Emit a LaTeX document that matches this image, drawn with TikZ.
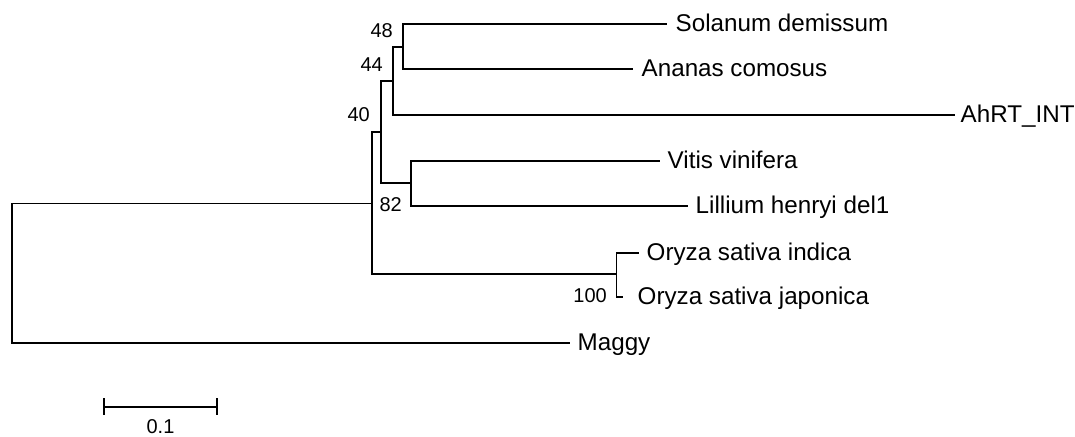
\documentclass[tikz,border=0pt]{standalone}
\usepackage{fontspec}
\setmainfont{Liberation Sans}
\begin{document}
\begin{tikzpicture}[x=1pt,y=-1pt,
  branch/.style={line width=1.8pt},
  taxon/.style={anchor=base west, inner sep=0pt, font=\fontsize{24.2}{28}\selectfont},
  support/.style={anchor=base east, inner sep=0pt, font=\fontsize{20}{24}\selectfont}]
\useasboundingbox (0,0) rectangle (1075,436);
% internal nodes
\coordinate (r) at (12,273);
\coordinate (a) at (372,203.5);
\coordinate (b) at (381,132);
\coordinate (c) at (393,80.7);
\coordinate (d) at (403,46.7);
\coordinate (e) at (411,183.3);
\coordinate (f) at (616.5,274);
% leaves
\coordinate (solanum) at (667,24);
\coordinate (ananas) at (633,69.3);
\coordinate (ahrt) at (955,115);
\coordinate (vitis) at (660,160.7);
\coordinate (lillium) at (688,206);
\coordinate (indica) at (639,253);
\coordinate (japonica) at (623,297);
\coordinate (maggy) at (570,343);
% branches
\draw[branch] (r) |- (a);
\draw[branch] (r) |- (maggy);
\draw[branch] (a) |- (b);
\draw[branch] (a) |- (f);
\draw[branch] (b) |- (c);
\draw[branch] (b) |- (e);
\draw[branch] (c) |- (d);
\draw[branch] (c) |- (ahrt);
\draw[branch] (d) |- (solanum);
\draw[branch] (d) |- (ananas);
\draw[branch] (e) |- (vitis);
\draw[branch] (e) |- (lillium);
\draw[branch] (f) |- (indica);
\draw[branch] (f) |- (japonica);
% taxon labels
\node[taxon] (tsol) at (675.5,31.5) {Solanum demissum};
\node[taxon] (tana) at (641.5,77) {Ananas comosus};
\node[taxon] (tahr) at (960.5,122.5) {AhRT\_INT};
\node[taxon] (tvit) at (667.5,168) {Vitis vinifera};
\node[taxon] (tlil) at (695.5,213.5) {Lillium henryi del1};
\node[taxon] (tind) at (646.5,260.5) {Oryza sativa indica};
\node[taxon] (tjap) at (637.5,304.5) {Oryza sativa japonica};
\node[taxon] (tmag) at (577.5,350.5) {Maggy};
% support values
\node[support] (s48) at (393,37.3) {48};
\node[support] (s44) at (383,71) {44};
\node[support] (s40) at (370,121) {40};
\node[support] (s82) at (402,211.7) {82};
\node[support] (s100) at (607,302.3) {100};
% scale bar
\coordinate (sbl) at (104,406.7);
\coordinate (sbr) at (217,406.7);
\draw[branch] (sbl) -- (sbr);
\draw[branch] ([yshift=8.5pt]sbl) -- ([yshift=-8.5pt]sbl);
\draw[branch] ([yshift=8.5pt]sbr) -- ([yshift=-8.5pt]sbr);
\node[anchor=base, inner sep=0pt, font=\fontsize{20}{24}\selectfont] (sblab) at (160.5,433.3) {0.1};
\end{tikzpicture}
\end{document}
